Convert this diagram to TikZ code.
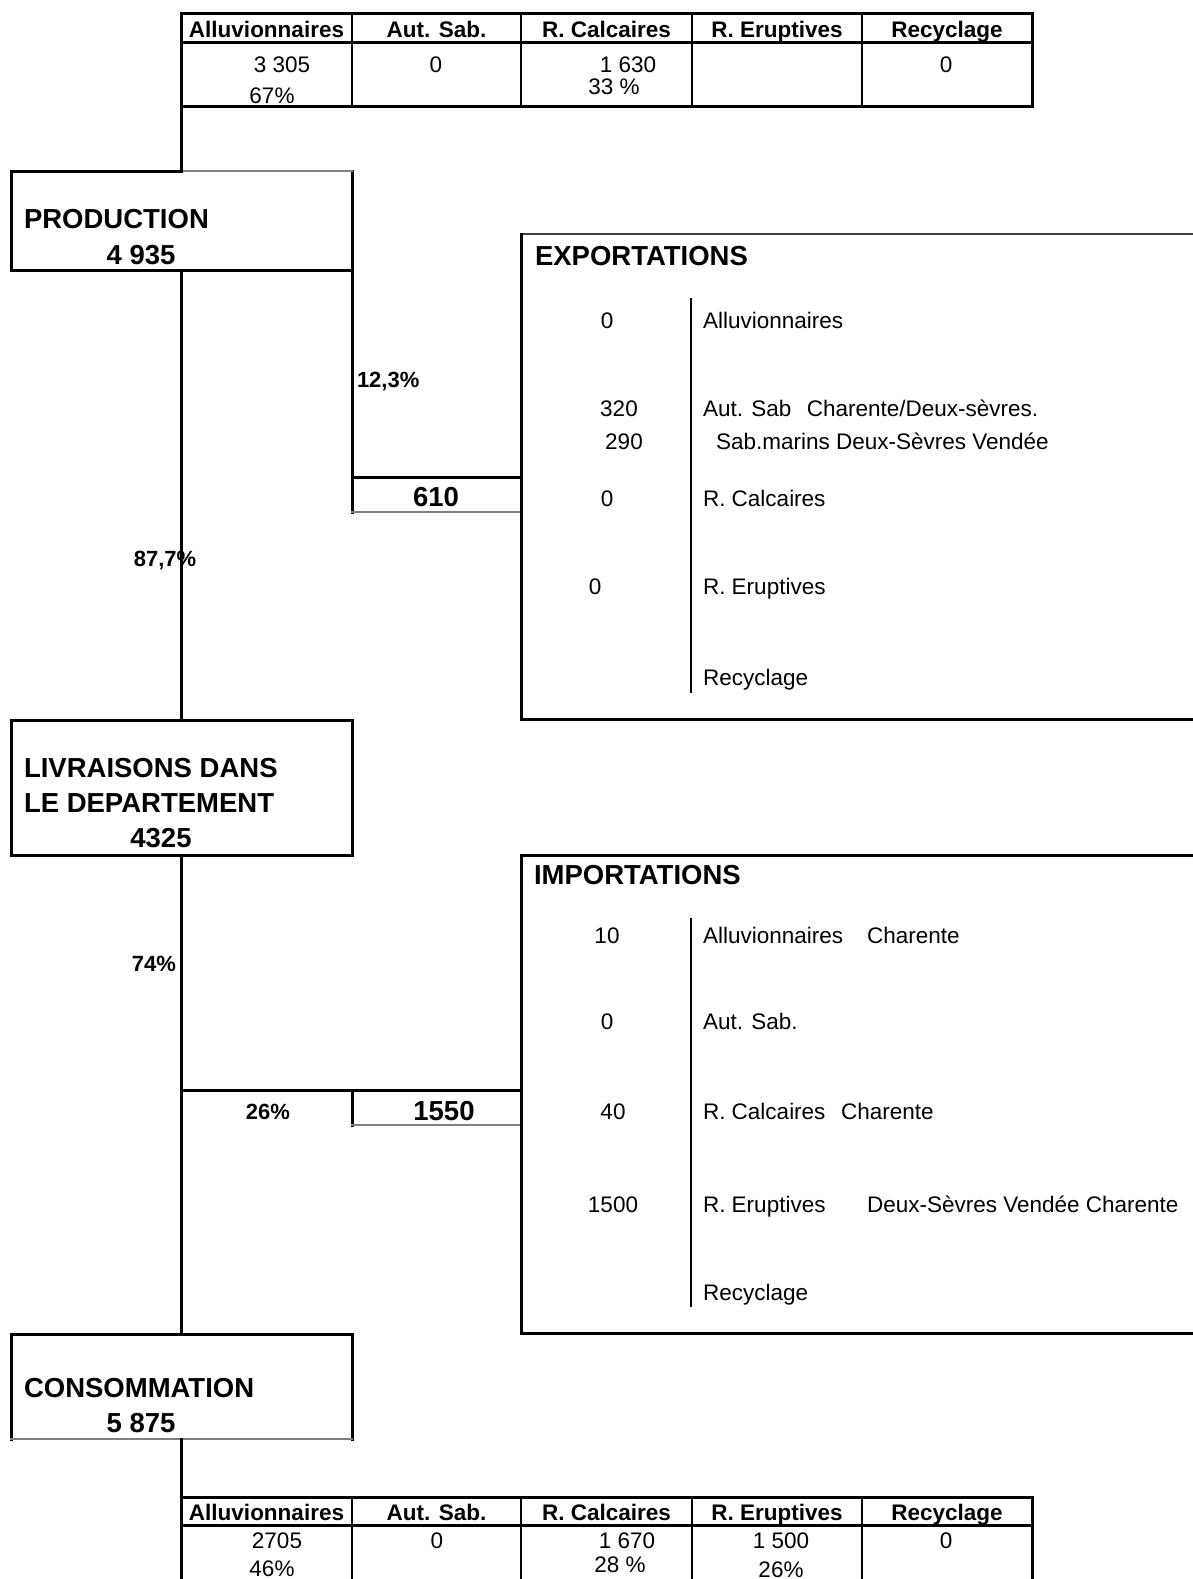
\documentclass[tikz,border=0pt]{standalone}
\usepackage{fontspec}
\setmainfont{Liberation Sans}
\usetikzlibrary{positioning}

\begin{document}
\begin{tikzpicture}[x=1pt, y=-1pt, line width=3pt, line cap=rect, inner sep=0pt, outer sep=0pt]
  \tikzstyle{txt}=[anchor=base, font=\fontsize{22.5}{27}\selectfont]
  \tikzstyle{lbl}=[txt, anchor=base west]
  \tikzstyle{hd}=[anchor=base, font=\fontsize{22.5}{27}\selectfont\bfseries]
  \tikzstyle{ttl}=[anchor=base west, font=\fontsize{27.5}{32}\selectfont\bfseries]
  \tikzstyle{big}=[anchor=base, font=\fontsize{27.5}{32}\selectfont\bfseries]
  \tikzstyle{pct}=[anchor=base, font=\fontsize{22}{26}\selectfont\bfseries]
  \tikzstyle{frame}=[rectangle, anchor=north west]
  \tikzstyle{thin}=[line width=1.5pt, color=black!50]
  \tikzstyle{rule}=[line width=2.5pt]

  \useasboundingbox (0,0) rectangle (1192,1579);
  \coordinate (trk) at (181,0);

  % tables
  \node[frame, draw, minimum width=851pt, minimum height=92.7pt] (toptab) at (181,14) {};
  \draw (181,42.5) -- (1032,42.5);
  \foreach \xx in {352,521,692,862} \draw[rule] (\xx,14) -- (\xx,106.7);
  \node[frame, minimum width=851pt, minimum height=110pt] (bottab) at (181,1497) {};
  \draw (bottab.south west) -- (bottab.north west) -- (bottab.north east) -- (bottab.south east);
  \draw (181,1525) -- (1032,1525);
  \foreach \xx in {352,521,692,862} \draw[rule] (\xx,1497) -- (\xx,1607);
  \foreach \i/\xx/\h in {1/266.5/Alluvionnaires, 2/436.5/Aut. Sab., 3/606.5/R. Calcaires, 4/777/R. Eruptives, 5/947/Recyclage}{
    \node[hd] (th\i) at (\xx,37.5) {\h};
    \node[hd] (bh\i) at (\xx,1520.5) {\h};
  }
  \node[txt] (tv1) at (282,72) {3 305};
  \node[txt] (tp1) at (272,103) {67\%};
  \node[txt] (tv2) at (436,72) {0};
  \node[txt] (tv3) at (628,72) {1 630};
  \node[txt] (tp3) at (614,95) {33 \%};
  \node[txt] (tv5) at (946,72) {0};
  \node[txt] (bv1) at (277,1548) {2705};
  \node[txt] (bp1) at (272,1576) {46\%};
  \node[txt] (bv2) at (437,1548) {0};
  \node[txt] (bv3) at (627,1548) {1 670};
  \node[txt] (bp3) at (620,1572) {28 \%};
  \node[txt] (bv4) at (781,1548) {1 500};
  \node[txt] (bp4) at (781,1577) {26\%};
  \node[txt] (bv5) at (946,1548) {0};

  % left column
  \node[frame, minimum width=341pt, minimum height=99pt] (prod) at (11,171) {};
  \draw (prod.north -| trk) -- (prod.north west) -- (prod.south west) -- (prod.south east) -- (prod.north east);
  \draw[thin] (prod.north -| trk) -- (prod.north east);
  \node[ttl] (prodT) at (24,228) {PRODUCTION};
  \node[big] (prodV) at (141,264.5) {4 935};
  \node[frame, draw, minimum width=341pt, minimum height=135pt] (livr) at (11,720) {};
  \node[ttl] (livrT1) at (24,777) {LIVRAISONS DANS};
  \node[ttl] (livrT2) at (24,812) {LE DEPARTEMENT};
  \node[big] (livrV) at (161,847) {4325};
  \node[frame, minimum width=341pt, minimum height=105pt] (cons) at (11,1334) {};
  \draw (cons.south west) -- (cons.north west) -- (cons.north east) -- (cons.south east);
  \draw[thin] (cons.south west) -- (cons.south east);
  \node[ttl] (consT) at (24,1397) {CONSOMMATION};
  \node[big] (consV) at (141,1432) {5 875};

  \draw (toptab.south west) -- (prod.north -| trk);
  \draw (prod.south -| trk) -- (livr.north -| trk);
  \draw (livr.south -| trk) -- (cons.north -| trk);
  \draw (cons.south -| trk) -- (bottab.north west);
  \node[pct] (p877) at (165,566.5) {87,7\%};
  \node[pct, anchor=base east] (p74) at (176,971) {74\%};

  % exportations
  \node[frame, minimum width=169pt, minimum height=35pt] (box610) at (352,477) {};
  \draw (prod.south east) -- (box610.south west);
  \draw (box610.north west) -- (box610.north east);
  \draw[thin] (box610.south west) -- (box610.south east);
  \node[big] (v610) at (436,506) {610};
  \node[pct, anchor=base west] (p123) at (357,387.5) {12,3\%};

  \node[frame, minimum width=800pt, minimum height=485pt] (expo) at (521,234) {};
  \draw[line width=2pt, color=black!75] (expo.north west) -- (expo.north east);
  \draw (expo.north west) -- (expo.south west) -- (expo.south east);
  \node[ttl] (expoT) at (535,265) {EXPORTATIONS};
  \draw[rule] (691,299) -- (691,692);
  \node[txt] (e1) at (607,328) {0};
  \node[lbl] (el1) at (703,328) {Alluvionnaires};
  \node[txt] (e2) at (619,416) {320};
  \node[lbl] (el2) at (703,416) {Aut. Sab\hspace{15.4pt}Charente/Deux-sèvres.};
  \node[txt] (e3) at (624,449) {290};
  \node[lbl] (el3) at (716,449) {Sab.marins Deux-Sèvres Vendée};
  \node[txt] (e4) at (607,506) {0};
  \node[lbl] (el4) at (703,506) {R. Calcaires};
  \node[txt] (e5) at (595,594) {0};
  \node[lbl] (el5) at (703,594) {R. Eruptives};
  \node[lbl] (el6) at (703,685) {Recyclage};

  % importations
  \node[frame, minimum width=169pt, minimum height=35pt] (box1550) at (352,1090) {};
  \draw (box1550.north west -| trk) -- (box1550.north east);
  \draw (box1550.north west) -- (box1550.south west);
  \draw[thin] (box1550.south west) -- (box1550.south east);
  \node[big] (v1550) at (444,1120) {1550};
  \node[pct] (p26) at (268,1119) {26\%};

  \node[frame, minimum width=800pt, minimum height=478pt] (impo) at (521,855) {};
  \draw (impo.north east) -- (impo.north west) -- (impo.south west) -- (impo.south east);
  \node[ttl] (impoT) at (534,884) {IMPORTATIONS};
  \draw[rule] (691,919) -- (691,1306);
  \node[txt] (i1) at (607,943) {10};
  \node[lbl] (il1) at (703,943) {Alluvionnaires\hspace{24pt}Charente};
  \node[txt] (i2) at (607,1029) {0};
  \node[lbl] (il2) at (703,1029) {Aut. Sab.};
  \node[txt] (i3) at (613,1119) {40};
  \node[lbl] (il3) at (703,1119) {R. Calcaires\hspace{15.6pt}Charente};
  \node[txt] (i4) at (613,1212) {1500};
  \node[lbl] (il4) at (703,1212) {R. Eruptives\hspace{41.5pt}Deux-Sèvres Vendée Charente};
  \node[lbl] (il5) at (703,1300) {Recyclage};
\end{tikzpicture}
\end{document}
